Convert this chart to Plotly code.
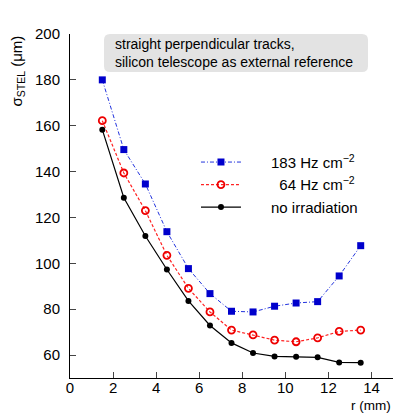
import plotly.graph_objects as go

r = [1.5, 2.5, 3.5, 4.5, 5.5, 6.5, 7.5, 8.5, 9.5, 10.5, 11.5, 12.5, 13.5]
hz183 = [180.0, 149.6, 134.6, 113.8, 97.7, 86.8, 79.1, 78.8, 81.3, 82.7, 83.3, 94.5, 107.7]
hz64 = [162.2, 139.4, 123.0, 103.5, 89.1, 78.8, 70.9, 68.8, 66.5, 65.8, 67.5, 70.3, 70.9]
noirr = [158.3, 128.6, 111.9, 97.3, 83.6, 72.9, 65.3, 60.9, 59.4, 59.3, 59.0, 56.8, 56.7]
xticks = [0, 2, 4, 6, 8, 10, 12, 14]
yticks = [60, 80, 100, 120, 140, 160, 180, 200]

FONT = "Liberation Sans, Arial, Helvetica, sans-serif"

fig = go.Figure()
fig.add_trace(go.Scatter(x=r, y=hz183, mode="lines+markers",
    name="      183 Hz cm<sup>−2</sup>",
    line=dict(color="#2233dd", width=1, dash="4px,2px,1px,2px"),
    marker=dict(symbol="square", size=7, color="#0000cc")))
fig.add_trace(go.Scatter(x=r, y=hz64, mode="lines+markers",
    name="        64 Hz cm<sup>−2</sup>",
    line=dict(color="#ff2222", width=1.2, dash="3px,2px"),
    marker=dict(symbol="circle-open", size=7, color="#ee0000", line=dict(width=1.8))))
fig.add_trace(go.Scatter(x=r, y=noirr, mode="lines+markers",
    name="      no irradiation",
    line=dict(color="black", width=1.2),
    marker=dict(symbol="circle", size=6, color="black")))

# rounded box in paper coords
x0, x1 = (104 - 70) / 323, (368 - 70) / 323
y0, y1 = (378 - 72) / 344, (378 - 34) / 344
rx, ry = 6 / 323, 6 / 344
box = (f"M {x0+rx},{y0} L {x1-rx},{y0} Q {x1},{y0} {x1},{y0+ry} "
       f"L {x1},{y1-ry} Q {x1},{y1} {x1-rx},{y1} L {x0+rx},{y1} "
       f"Q {x0},{y1} {x0},{y1-ry} L {x0},{y0+ry} Q {x0},{y0} {x0+rx},{y0} Z")

fig.update_layout(
    width=395, height=414,
    margin=dict(l=70, r=2, t=34, b=36),
    plot_bgcolor="white", paper_bgcolor="white",
    font=dict(family=FONT, size=15, color="black"),
    showlegend=True,
    legend=dict(x=0.39, y=0.675, xanchor="left", yanchor="top",
                bgcolor="rgba(0,0,0,0)", font=dict(size=15),
                itemwidth=40, tracegroupgap=0),
    xaxis=dict(range=[0, 15.0], tickvals=xticks, ticks="inside", ticklen=6,
               showline=True, linecolor="black", linewidth=1, showgrid=False,
               zeroline=False, mirror=False, ticklabelstandoff=-4),
    yaxis=dict(range=[50, 200], tickvals=yticks, ticks="inside", ticklen=6,
               showline=True, linecolor="black", linewidth=1, showgrid=False,
               zeroline=False, mirror=False, ticklabelstandoff=6),
    shapes=[dict(type="path", xref="paper", yref="paper", path=box,
                 fillcolor="#e3e3e3", line=dict(width=0), layer="below")],
    annotations=[
        dict(text="straight perpendicular tracks,<br>silicon telescope as external reference",
             xref="paper", yref="paper", x=(113 - 70) / 323, y=(378 - 53) / 344,
             xanchor="left", yanchor="middle", align="left", showarrow=False,
             font=dict(size=14)),
        dict(text="r (mm)", xref="paper", yref="paper", x=1.0, y=-0.052,
             xanchor="right", yanchor="top", showarrow=False, font=dict(size=13.5)),
        dict(text="σ<sub>STEL</sub> (μm)", xref="paper", yref="paper",
             x=(17 - 70) / 323, y=1.0, xanchor="center", yanchor="top", textangle=-90,
             showarrow=False, font=dict(size=15)),
    ],
)

fig.write_html("out.html")
